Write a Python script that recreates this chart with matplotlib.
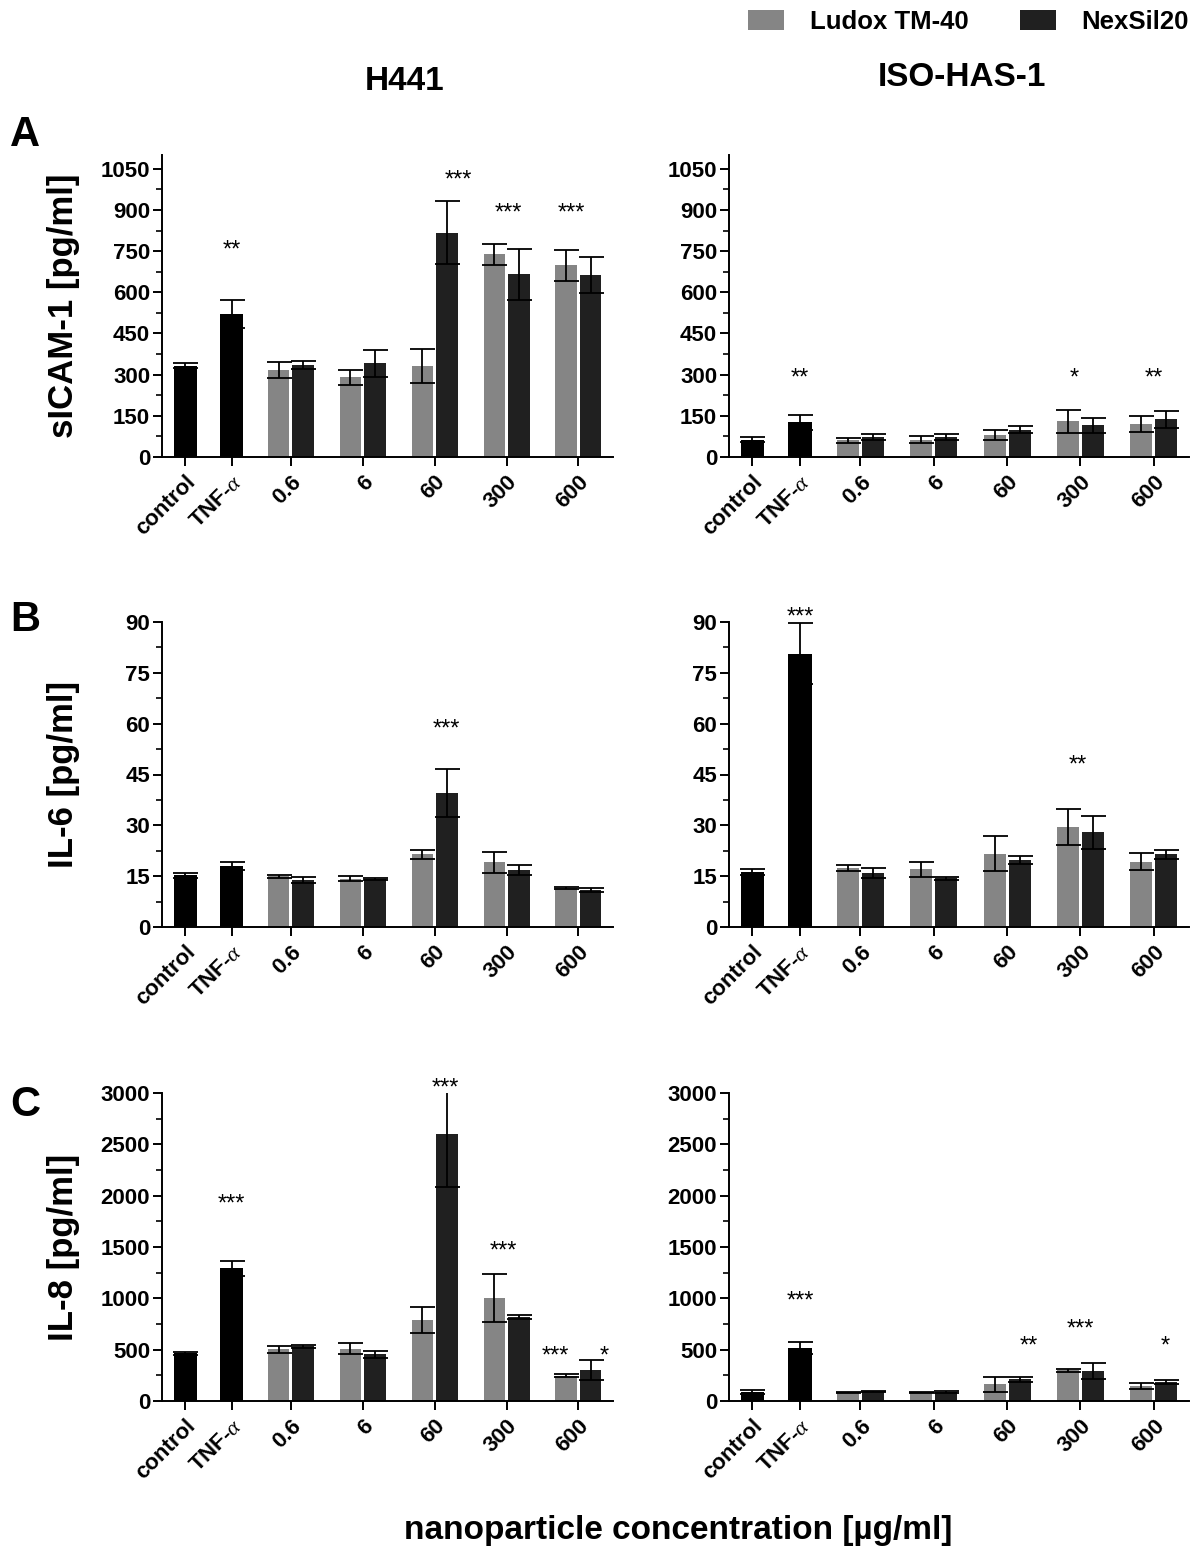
import numpy as np
import matplotlib
matplotlib.use('Agg')
import matplotlib.pyplot as plt
from matplotlib.ticker import MultipleLocator
from matplotlib.patches import Patch

plt.rcParams['font.family'] = ['Liberation Sans', 'DejaVu Sans']
plt.rcParams['mathtext.fontset'] = 'custom'
plt.rcParams['mathtext.it'] = 'Liberation Serif:italic'

groups = ['control', 'TNF-$\\alpha$', '0.6', '6', '60', '300', '600']
xpos = np.array([0, 0.65, 1.47, 2.47, 3.47, 4.47, 5.47])

# sICAM-1 [pg/ml]
h441_icam_ctrl = [333, 520]
h441_icam_ctrl_err = [10, 51]
h441_icam_ludox = [316, 290, 332, 738, 698]
h441_icam_ludox_err = [30, 28, 62, 38, 56]
h441_icam_nex = [335, 341, 817, 665, 663]
h441_icam_nex_err = [13, 50, 115, 93, 65]

iso_icam_ctrl = [63, 127]
iso_icam_ctrl_err = [9, 27]
iso_icam_ludox = [61, 63, 79, 130, 121]
iso_icam_ludox_err = [9, 12, 18, 43, 29]
iso_icam_nex = [73, 73, 100, 115, 137]
iso_icam_nex_err = [11, 11, 14, 28, 32]

# IL-6 [pg/ml]
h441_il6_ctrl = [15.2, 18.1]
h441_il6_ctrl_err = [0.6, 1.2]
h441_il6_ludox = [15.0, 14.3, 21.5, 19.1, 11.4]
h441_il6_ludox_err = [0.4, 0.8, 1.3, 3.1, 0.3]
h441_il6_nex = [13.9, 14.2, 39.6, 16.8, 10.8]
h441_il6_nex_err = [0.8, 0.3, 7.1, 1.4, 0.6]

iso_il6_ctrl = [16.3, 80.7]
iso_il6_ctrl_err = [0.9, 8.9]
iso_il6_ludox = [17.4, 17.0, 21.6, 29.4, 19.3]
iso_il6_ludox_err = [1.0, 2.3, 5.2, 5.3, 2.5]
iso_il6_nex = [16.0, 14.4, 19.7, 28.0, 21.4]
iso_il6_nex_err = [1.5, 0.4, 1.2, 4.9, 1.2]

# IL-8 [pg/ml]
h441_il8_ctrl = [465, 1293]
h441_il8_ctrl_err = [13, 75]
h441_il8_ludox = [504, 510, 790, 1007, 247]
h441_il8_ludox_err = [32, 55, 123, 234, 16]
h441_il8_nex = [533, 455, 2597, 816, 302]
h441_il8_nex_err = [16, 32, 515, 19, 98]

iso_il8_ctrl = [88, 512]
iso_il8_ctrl_err = [20, 59]
iso_il8_ludox = [82, 82, 163, 300, 147]
iso_il8_ludox_err = [6, 6, 72, 16, 29]
iso_il8_nex = [91, 88, 212, 293, 186]
iso_il8_nex_err = [7, 10, 26, 75, 23]

# significance marks: (group index, x shift, y, text)
h441_icam_stars = [(1, 0, 766, '**'), (4, 0.33, 1020, '***'), (5, 0.02, 900, '***'), (6, -0.1, 900, '***')]
iso_icam_stars = [(1, 0, 301, '**'), (5, -0.09, 301, '*'), (6, 0, 301, '**')]
h441_il6_stars = [(4, 0.16, 59.3, '***')]
iso_il6_stars = [(1, 0, 92.5, '***'), (5, -0.04, 48.6, '**')]
h441_il8_stars = [(1, 0, 1953, '***'), (4, 0.15, 3081, '***'), (5, -0.05, 1495, '***'),
                  (6, -0.32, 465, '***'), (6, 0.36, 465, '*')]
iso_il8_stars = [(1, 0, 1001, '***'), (4, 0.29, 570, '**'), (5, 0, 734, '***'), (6, 0.16, 570, '*')]

GRAY = '#858585'
DARK = '#202020'
W = 1200.0
H = 1556.0
bw = 0.30
star_fs = 17
tick_fs = 16


def draw_panel(rect, ctrl, ctrl_err, lud, lud_err, nex, nex_err, stars, ymax, ystep):
    ax = fig.add_axes(rect)
    ekw = dict(fmt='none', ecolor='black', elinewidth=1.3, capsize=9, capthick=1.3, zorder=3)
    ax.bar(xpos[:2], ctrl, width=0.32, color='black', zorder=2)
    ax.errorbar(xpos[:2], ctrl, yerr=ctrl_err, **ekw)
    xg = xpos[2:] - 0.17
    xk = xpos[2:] + 0.17
    ax.bar(xg, lud, width=bw, color=GRAY, zorder=2)
    ax.errorbar(xg, lud, yerr=lud_err, **ekw)
    ax.bar(xk, nex, width=bw, color=DARK, zorder=2)
    ax.errorbar(xk, nex, yerr=nex_err, **ekw)
    for gi, dx, y, s in stars:
        ax.annotate(s, (xpos[gi] + dx, y), xytext=(0, -0.41 * star_fs), textcoords='offset points',
                    ha='center', va='baseline', fontsize=star_fs, annotation_clip=False)
    ax.set_xlim(-0.32, 5.95)
    ax.set_ylim(0, ymax)
    ax.yaxis.set_major_locator(MultipleLocator(ystep))
    ax.yaxis.set_minor_locator(MultipleLocator(ystep / 2))
    ax.set_xticks(xpos)
    ax.set_xticklabels(groups, rotation=45, ha='right', va='top', rotation_mode='anchor',
                       fontsize=tick_fs, fontweight='bold')
    for lab in ax.get_yticklabels():
        lab.set_fontsize(tick_fs)
        lab.set_fontweight('bold')
    ax.spines['top'].set_visible(False)
    ax.spines['right'].set_visible(False)
    ax.spines['left'].set_linewidth(1.4)
    ax.spines['bottom'].set_linewidth(1.4)
    ax.tick_params(axis='both', which='major', direction='out', length=6.5, width=1.4, pad=2)
    ax.tick_params(axis='y', which='minor', direction='out', length=4, width=1.2)
    ax.tick_params(axis='x', pad=4)
    return ax


fig = plt.figure(figsize=(12, 15.56), dpi=100)

lx, lw = 162 / W, 451 / W
rx, rw = 729 / W, 460 / W
rowA = (1 - 457 / H, 302 / H)
rowB = (1 - 927 / H, 305 / H)
rowC = (1 - 1401 / H, 308 / H)

draw_panel([lx, rowA[0], lw, rowA[1]], h441_icam_ctrl, h441_icam_ctrl_err, h441_icam_ludox,
           h441_icam_ludox_err, h441_icam_nex, h441_icam_nex_err, h441_icam_stars, 1100, 150)
draw_panel([rx, rowA[0], rw, rowA[1]], iso_icam_ctrl, iso_icam_ctrl_err, iso_icam_ludox,
           iso_icam_ludox_err, iso_icam_nex, iso_icam_nex_err, iso_icam_stars, 1100, 150)
draw_panel([lx, rowB[0], lw, rowB[1]], h441_il6_ctrl, h441_il6_ctrl_err, h441_il6_ludox,
           h441_il6_ludox_err, h441_il6_nex, h441_il6_nex_err, h441_il6_stars, 90, 15)
draw_panel([rx, rowB[0], rw, rowB[1]], iso_il6_ctrl, iso_il6_ctrl_err, iso_il6_ludox,
           iso_il6_ludox_err, iso_il6_nex, iso_il6_nex_err, iso_il6_stars, 90, 15)
draw_panel([lx, rowC[0], lw, rowC[1]], h441_il8_ctrl, h441_il8_ctrl_err, h441_il8_ludox,
           h441_il8_ludox_err, h441_il8_nex, h441_il8_nex_err, h441_il8_stars, 3000, 500)
draw_panel([rx, rowC[0], rw, rowC[1]], iso_il8_ctrl, iso_il8_ctrl_err, iso_il8_ludox,
           iso_il8_ludox_err, iso_il8_nex, iso_il8_nex_err, iso_il8_stars, 3000, 500)

# y labels
ylabels = ['sICAM-1 [pg/ml]', 'IL-6 [pg/ml]', 'IL-8 [pg/ml]']
for lab, (b, h) in zip(ylabels, [rowA, rowB, rowC]):
    fig.text(64 / W, b + h / 2, lab, rotation=90, ha='center', va='center',
             fontsize=25, fontweight='bold')

# panel letters
for lab, yy in zip(['A', 'B', 'C'], [135, 620, 1105]):
    fig.text(25 / W, 1 - yy / H, lab, ha='center', va='center', fontsize=30, fontweight='bold')

# column titles
fig.text(405 / W, 1 - 82 / H, 'H441', ha='center', va='center', fontsize=24, fontweight='bold')
fig.text(962 / W, 1 - 78 / H, 'ISO-HAS-1', ha='center', va='center', fontsize=24, fontweight='bold')

# x label
fig.text(678 / W, 1 - 1530 / H, 'nanoparticle concentration [µg/ml]', ha='center', va='center',
         fontsize=24, fontweight='bold')

# legend
handles = [Patch(facecolor=GRAY, edgecolor='none', label='Ludox TM-40'),
           Patch(facecolor=DARK, edgecolor='none', label='NexSil20')]
fig.legend(handles=handles, loc='center right', bbox_to_anchor=(1189 / W, 1 - 22 / H), ncol=2,
           frameon=False, prop={'size': 18.5, 'weight': 'bold'}, handlelength=1.4, handleheight=0.8,
           columnspacing=2.0, handletextpad=1.0, borderaxespad=0, borderpad=0)

fig.savefig('out.png', dpi=100)
